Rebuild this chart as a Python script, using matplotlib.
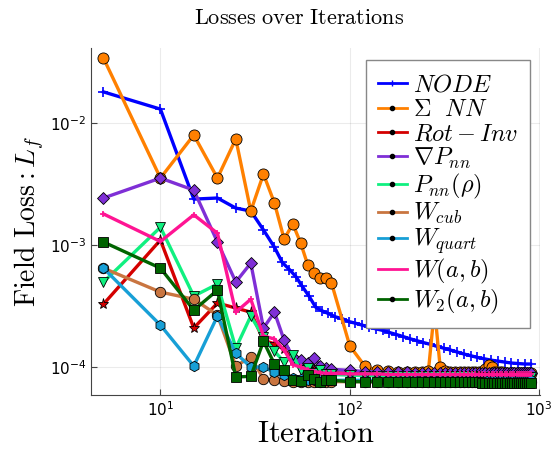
import matplotlib
matplotlib.use("Agg")
import matplotlib.pyplot as plt
from matplotlib.lines import Line2D
import numpy as np

# ── DATA ───────────────────────────────────────────────────
# iterations shared by most models (every 5 up to 80, then every 20)
iters = [5, 10, 15, 20, 25, 30, 35, 40, 45, 50, 55, 60, 65, 70, 75, 80,
         100, 120, 140, 160, 180, 200, 220, 240, 260, 280, 300, 320, 340, 360,
         380, 400, 420, 440, 460, 480, 500, 520, 540, 560, 580, 600, 620, 640,
         660, 680, 700, 720, 740, 760, 780, 800, 820, 840, 860, 880, 900]

# NODE is logged on its own schedule
node_iters = [5, 10, 15, 20, 25, 30, 35, 40, 44, 48, 52, 56, 61, 66, 71, 77,
              84, 91, 99, 107, 116, 126, 137, 149, 162, 176, 191, 207, 225,
              244, 265, 288, 313, 340, 369, 401, 435, 472, 513, 557, 605, 657,
              713, 775, 841, 900]
node = [1.8e-2, 1.3e-2, 2.38e-3, 2.43e-3, 2.01e-3, 1.9e-3, 1.33e-3, 9.6e-4,
        7.2e-4, 6.3e-4, 5.5e-4, 4.6e-4, 3.8e-4, 3.1e-4, 2.9e-4, 2.75e-4,
        2.58e-4, 2.5e-4, 2.36e-4, 2.29e-4, 2.21e-4, 2.13e-4, 2.06e-4, 2.0e-4,
        1.92e-4, 1.85e-4, 1.78e-4, 1.71e-4, 1.65e-4, 1.59e-4, 1.54e-4,
        1.48e-4, 1.43e-4, 1.38e-4, 1.33e-4, 1.28e-4, 1.24e-4, 1.2e-4,
        1.17e-4, 1.14e-4, 1.12e-4, 1.1e-4, 1.08e-4, 1.07e-4, 1.06e-4, 1.06e-4]

# values below in units of 1e-5
sum_nn = [3410, 354, 798, 354, 740, 190, 382, 221, 112, 149, 104, 68.6, 59, 54, 54, 49,
          14.9, 10.2, 9.4, 9.3, 9.2, 9.2, 9.2, 9.1, 9.3, 30, 10.0, 9.3, 9.2, 9.2,
          9.1, 9.1, 9.1, 9.1, 9.1, 9.1, 9.2, 9.6, 10.5, 10.0, 9.2, 9.1, 9.1, 9.1,
          9.0, 9.0, 9.0, 9.0, 9.0, 9.0, 9.0, 9.0, 9.0, 9.0, 9.0, 9.0, 9.0]
rot_inv = [32.8, 110, 20.9, 33.5, 30.5, 28.2, 16.6, 15.5, 14.0, 11.5, 10.5, 10.0, 9.6, 9.4, 9.2, 9.0,
           8.9, 8.8, 8.8, 8.8, 8.7, 8.7, 8.7, 8.7, 8.7, 8.7, 8.7, 8.6, 8.6, 8.6,
           8.6, 8.6, 8.6, 8.6, 8.6, 8.6, 8.6, 8.6, 8.6, 8.6, 8.6, 8.5, 8.5, 8.5,
           8.5, 8.5, 8.5, 8.5, 8.5, 8.5, 8.5, 8.5, 8.5, 8.5, 8.5, 8.5, 8.5]
grad_p = [243, 354, 282, 106, 49.8, 71.1, 20.9, 28.2, 16.6, 12.1, 11.4, 10.8, 11.8, 10.2, 9.8, 9.6,
          9.4, 9.2, 9.1, 9.1, 9.1, 9.1, 9.0, 9.0, 9.0, 9.0, 9.0, 9.0, 9.0, 9.0,
          9.0, 9.0, 9.0, 9.0, 9.0, 9.0, 8.9, 8.9, 8.9, 8.9, 8.9, 8.9, 8.9, 8.9,
          8.9, 8.9, 8.9, 8.9, 8.9, 8.9, 8.9, 8.9, 8.9, 8.9, 8.9, 8.9, 8.9]
p_rho = [49.8, 140, 38.2, 47.9, 14.3, 26.2, 17.6, 13.5, 11.0, 12.5, 9.4, 9.9, 9.0, 9.5, 8.8, 8.7,
         8.6, 8.5, 8.5, 8.5, 8.5, 8.5, 8.4, 8.4, 8.4, 8.4, 8.4, 8.4, 8.4, 8.4,
         8.4, 8.4, 8.4, 8.4, 8.4, 8.3, 8.3, 8.3, 8.3, 8.3, 8.3, 8.3, 8.3, 8.3,
         8.3, 8.3, 8.3, 8.3, 8.3, 8.3, 8.3, 8.3, 8.3, 8.3, 8.3, 8.3, 8.3]
w_cub = [64.7, 41.2, 36.0, 26.7, 10.2, 12.1, 8.0, 7.8, 7.7, 7.6, 7.6, 7.6, 7.6, 7.6, 7.6, 7.6,
         7.6, 7.6, 7.6, 7.6, 7.6, 7.6, 7.6, 7.6, 7.6, 7.6, 7.6, 7.6, 7.6, 7.6,
         7.5, 7.5, 7.5, 7.5, 7.5, 7.5, 7.5, 7.5, 7.5, 7.5, 7.5, 7.5, 7.5, 7.5,
         7.5, 7.5, 7.5, 7.5, 7.5, 7.5, 7.5, 7.5, 7.5, 7.5, 7.5, 7.5, 7.5]
w_quart = [64.7, 22.1, 10.2, 26.2, 13.0, 10.0, 10.0, 9.1, 8.6, 8.2, 8.0, 7.9, 7.9, 7.8, 7.8, 7.8,
           7.8, 7.8, 7.8, 7.8, 7.8, 7.8, 7.8, 7.8, 7.8, 7.8, 7.8, 7.8, 7.8, 7.8,
           7.8, 7.8, 7.8, 7.8, 7.8, 7.8, 7.8, 7.8, 7.8, 7.8, 7.8, 7.8, 7.8, 7.8,
           7.8, 7.8, 7.8, 7.8, 7.8, 7.8, 7.8, 7.8, 7.8, 7.8, 7.8, 7.8, 7.8]
w_ab = [180, 107, 177, 125, 28.2, 36.0, 18.0, 17.0, 13.8, 10.5, 10.0, 9.5, 9.2, 9.0, 8.9, 8.9,
        8.8, 8.8, 8.8, 8.7, 8.7, 8.7, 8.7, 8.7, 8.7, 8.7, 8.7, 8.7, 8.7, 8.7,
        8.7, 8.7, 8.7, 8.7, 8.7, 8.7, 8.7, 8.7, 8.7, 8.7, 8.7, 8.7, 8.7, 8.7,
        8.7, 8.7, 8.7, 8.7, 8.7, 8.7, 8.7, 8.7, 8.7, 8.7, 8.7, 8.7, 8.7]
w2_ab = [106, 64.7, 29.3, 42.7, 8.3, 8.4, 16.3, 10.6, 9.4, 7.8, 7.7, 8.6, 8.0, 7.6, 7.8, 7.8,
         7.6, 7.6, 7.6, 7.6, 7.6, 7.6, 7.6, 7.5, 7.5, 7.5, 7.5, 7.5, 7.5, 7.5,
         7.5, 7.5, 7.5, 7.5, 7.5, 7.5, 7.4, 7.4, 7.4, 7.4, 7.4, 7.4, 7.4, 7.4,
         7.4, 7.4, 7.4, 7.4, 7.4, 7.4, 7.4, 7.4, 7.4, 7.4, 7.4, 7.4, 7.4]
UNIT = 1e-5

labels = [r"$NODE$", r"$\Sigma\ \ NN$", r"$Rot-Inv$", r"$\nabla P_{nn}$",
          r"$P_{nn}(\rho)$", r"$W_{cub}$", r"$W_{quart}$", r"$W(a,b)$",
          r"$W_2(a,b)$"]

# ── STYLE ──────────────────────────────────────────────────
COLORS = ["#0000ff", "#ff8000", "#d40000", "#7f2fd6", "#10f080",
          "#c97540", "#179fd6", "#ff1493", "#006400"]
MARKERS = ["+", "o", "*", "D", "v", "o", "h", "+", "s"]
SIZES = [7, 8, 8, 6, 7, 7.5, 7.5, 5, 7]

fig = plt.figure(figsize=(5.55, 4.51), dpi=100)
ax = fig.add_axes([0.164, 0.124, 0.809, 0.769])

series = [sum_nn, rot_inv, grad_p, p_rho, w_cub, w_quart, w_ab, w2_ab]
ax.plot(node_iters, node, color=COLORS[0], lw=2.4, marker="+", ms=7, mew=1.2)
for i, ys in enumerate(series, start=1):
    ax.plot(iters, np.array(ys) * UNIT, color=COLORS[i], lw=2.4,
            marker=MARKERS[i], ms=SIZES[i],
            mec=COLORS[i] if MARKERS[i] == "+" else "black",
            mew=1.2 if MARKERS[i] == "+" else 0.6)

ax.set_xscale("log")
ax.set_yscale("log")
ax.set_xlim(4.3, 1010)
ax.set_ylim(5.9e-5, 0.041)
ax.minorticks_off()
ax.set_xticks([10, 100, 1000])
ax.set_yticks([1e-4, 1e-3, 1e-2])
ax.grid(True, color="#000000", alpha=0.08, lw=0.8)
ax.tick_params(direction="in", length=4, labelsize=11, color="#444444")
for s in ["top", "right"]:
    ax.spines[s].set_visible(False)
for s in ["left", "bottom"]:
    ax.spines[s].set_color("#444444")

fig.text(0.539, 0.96, r"$\mathrm{Losses\ over\ Iterations}$", fontsize=16,
         math_fontfamily="cm", ha="center", va="center")
ax.set_xlabel(r"$\mathrm{Iteration}$", fontsize=22, math_fontfamily="cm",
              labelpad=0)
ax.set_ylabel(r"$\mathrm{Field\ Loss} : L_f$", fontsize=20,
              math_fontfamily="cm", labelpad=2)

handles = []
for i, c in enumerate(COLORS):
    if i == 0:
        h = Line2D([], [], color=c, lw=2, marker="+", ms=5, mec=c)
    elif i == 7:
        h = Line2D([], [], color=c, lw=2)
    else:
        h = Line2D([], [], color=c, lw=2, marker="o", ms=3, mfc="black",
                   mec="black")
    handles.append(h)
leg = ax.legend(handles, labels, loc="upper right",
                bbox_to_anchor=(0.978, 0.965), borderaxespad=0,
                fontsize=17.5, handlelength=1.2, handletextpad=0.25,
                labelspacing=0.02, fancybox=False, framealpha=1,
                edgecolor="#888888", borderpad=0.5)
leg.set_zorder(10)
for t in leg.get_texts():
    t.set_math_fontfamily("cm")

fig.savefig("out.png", dpi=100)
